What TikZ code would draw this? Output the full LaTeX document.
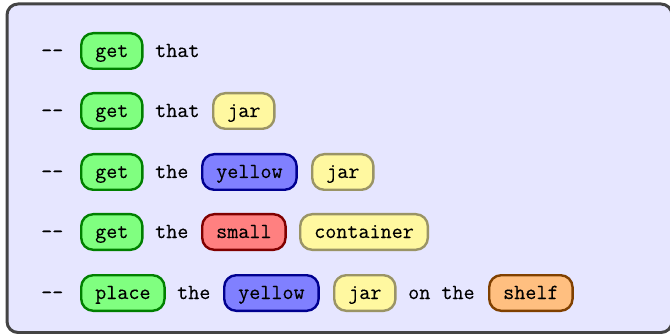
\documentclass[tikz,border=0pt]{standalone}
\usepackage{fontspec}
\newfontfamily\tagfont{Latin Modern Mono}[FakeBold=0.2]
\definecolor{framebg}{HTML}{E6E6FF}
\definecolor{framedraw}{HTML}{444444}
\definecolor{gfill}{HTML}{80FF80}
\definecolor{gdraw}{HTML}{008000}
\definecolor{yfill}{HTML}{FFF8A0}
\definecolor{ydraw}{HTML}{9A9466}
\definecolor{bfill}{HTML}{8080FF}
\definecolor{bdraw}{HTML}{000090}
\definecolor{rfill}{HTML}{FF8080}
\definecolor{rdraw}{HTML}{800000}
\definecolor{ofill}{HTML}{FFBF80}
\definecolor{odraw}{HTML}{804000}
\tikzset{
  every node/.style={font=\fontsize{21.5}{26}\selectfont\tagfont, text height=15pt, text depth=3pt, anchor=west},
  word/.style={inner xsep=0pt, inner ysep=0pt},
  tag/.style={rounded corners=12pt, line width=2.4pt, inner xsep=14pt, minimum height=35.6pt},
  verb/.style={tag, fill=gfill, draw=gdraw},
  obj/.style={tag, fill=yfill, draw=ydraw},
  colr/.style={tag, fill=bfill, draw=bdraw},
  size/.style={tag, fill=rfill, draw=rdraw},
  place/.style={tag, fill=ofill, draw=odraw},
}
\begin{document}
\begin{tikzpicture}[x=1pt,y=-1pt]
\useasboundingbox (0,0) rectangle (670,334);
\draw[fill=framebg, draw=framedraw, line width=3pt, rounded corners=11pt] (7,4) rectangle (672,332.5);
% row 1
\node[word] (d1) at (41,51) {--};
\node[verb] (v1) at (80,51) {get};
\node[word] (w1) at (155,51) {that};
% row 2
\node[word] (d2) at (41,111) {--};
\node[verb] (v2) at (80,111) {get};
\node[word] (w2) at (155,111) {that};
\node[obj] (o2) at (212,111) {jar};
% row 3
\node[word] (d3) at (41,172) {--};
\node[verb] (v3) at (80,172) {get};
\node[word] (w3) at (155,172) {the};
\node[colr] (c3) at (201,172) {yellow};
\node[obj] (o3) at (311,172) {jar};
% row 4
\node[word] (d4) at (41,232) {--};
\node[verb] (v4) at (80,232) {get};
\node[word] (w4) at (155,232) {the};
\node[size] (s4) at (201,232) {small};
\node[obj] (o4) at (299,232) {container};
% row 5
\node[word] (d5) at (41,293) {--};
\node[verb] (v5) at (80,293) {place};
\node[word] (w5) at (177,293) {the};
\node[colr] (c5) at (223,293) {yellow};
\node[obj] (o5) at (333,293) {jar};
\node[word] (w5b) at (408,293) {on the};
\node[place] (p5) at (488,293) {shelf};
\end{tikzpicture}
\end{document}
